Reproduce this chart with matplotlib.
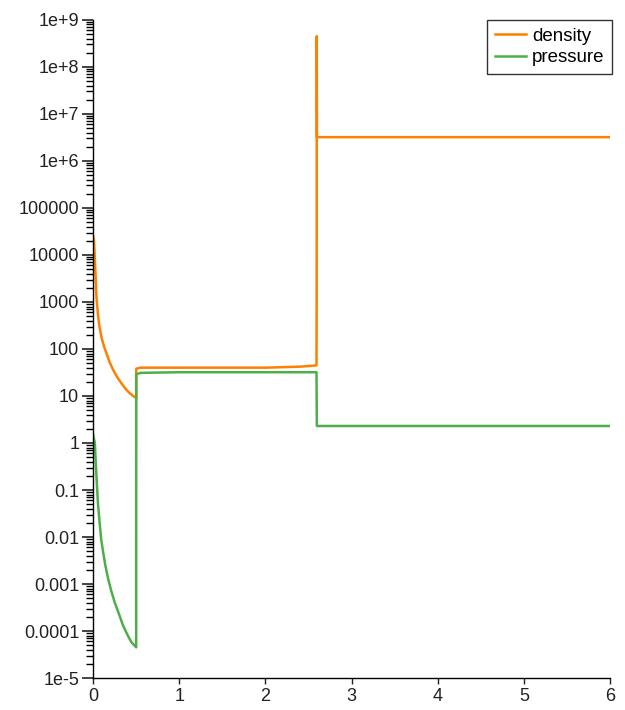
import matplotlib
matplotlib.use("Agg")
import matplotlib.pyplot as plt
from matplotlib.ticker import FixedLocator, LogLocator, NullFormatter

# ---- data ----
density_x = [0.0, 0.01, 0.027, 0.038, 0.058, 0.075, 0.096, 0.125, 0.154, 0.19, 0.232, 0.28,
             0.328, 0.376, 0.426, 0.465, 0.50,
             0.501, 0.55, 1.0, 1.5, 2.0, 2.2, 2.4, 2.55, 2.593, 2.595, 2.596, 2.598, 6.0]
density_y = [25000, 21000, 4150, 1320, 490, 290, 182, 115, 82, 53, 36, 25,
             18.7, 14.2, 11.4, 10.0, 9.0,
             38, 40, 40, 40, 40, 41, 42, 44, 45, 1300, 4.5e8, 3.2e6, 3.2e6]

pressure_x = [0.0, 0.02, 0.03, 0.038, 0.055, 0.078, 0.095, 0.116, 0.14, 0.174, 0.21, 0.25,
              0.3, 0.348, 0.4, 0.444, 0.50,
              0.501, 0.55, 1.0, 1.5, 2.0, 2.593, 2.597, 6.0]
pressure_y = [1.5, 1.0, 0.4, 0.21, 0.055, 0.018, 0.0085, 0.0048, 0.0026, 0.0013, 7.2e-4, 4.1e-4,
              2.3e-4, 1.3e-4, 8.2e-5, 5.8e-5, 4.5e-5,
              29, 31, 32, 32, 32, 32, 2.3, 2.3]

x_ticks = [0, 1, 2, 3, 4, 5, 6]
y_ticks = [1e-5, 1e-4, 1e-3, 1e-2, 1e-1, 1, 10, 100, 1000, 1e4, 1e5, 1e6, 1e7, 1e8, 1e9]
y_tick_labels = ["1e-5", "0.0001", "0.001", "0.01", "0.1", "1", "10", "100", "1000",
                 "10000", "100000", "1e+6", "1e+7", "1e+8", "1e+9"]

plt.rcParams['font.family'] = ['Liberation Sans', 'DejaVu Sans']

fig = plt.figure(figsize=(6.25, 7.10), dpi=100)
ax = fig.add_axes([0.149, 0.045, 0.827, 0.927])

ax.plot(density_x, density_y, color="#ff7f00", lw=1.8, label="density")
ax.plot(pressure_x, pressure_y, color="#4daf4a", lw=1.8, label="pressure")

ax.set_yscale("log")
ax.set_xlim(0, 6)
ax.set_ylim(1e-5, 1e9)

ax.yaxis.set_major_locator(FixedLocator(y_ticks))
ax.set_yticklabels(y_tick_labels)
ax.yaxis.set_minor_locator(LogLocator(base=10, subs=range(2, 10), numticks=100))
ax.yaxis.set_minor_formatter(NullFormatter())
ax.set_xticks(x_ticks)
ax.set_xticklabels([str(t) for t in x_ticks])

for s in ["top", "right"]:
    ax.spines[s].set_visible(False)
ax.spines["left"].set_linewidth(1.0)
ax.spines["bottom"].set_linewidth(1.0)

ax.tick_params(axis="y", which="major", length=8, width=1.2, labelsize=13, pad=2, colors="#222222")
ax.tick_params(axis="y", which="minor", length=5, width=1.0)
ax.tick_params(axis="x", which="major", length=4, width=1.0, labelsize=13, pad=3, colors="#222222")

leg = ax.legend(loc="upper right", bbox_to_anchor=(1.004, 1.0), frameon=True, fancybox=False,
                fontsize=13.5, handlelength=1.7, handletextpad=0.3, borderpad=0.4,
                labelspacing=0.25, borderaxespad=0)
leg.get_frame().set_edgecolor("black")
leg.get_frame().set_linewidth(1.0)

fig.savefig("out.png", dpi=100)
